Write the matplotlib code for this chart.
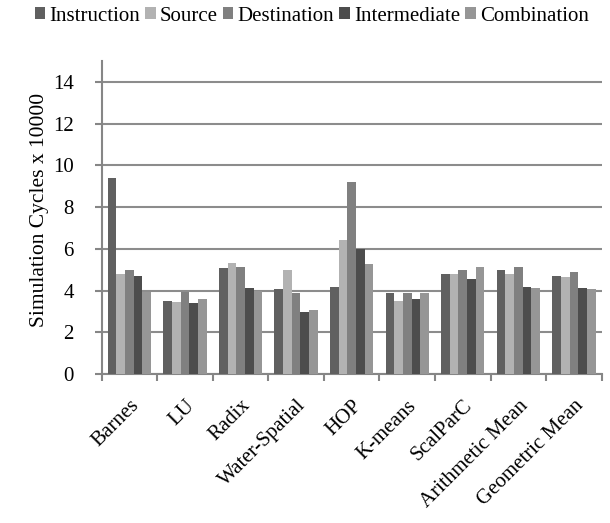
import numpy as np
import matplotlib
matplotlib.use('Agg')
import matplotlib.pyplot as plt
from matplotlib.transforms import ScaledTranslation

plt.rcParams['font.family'] = ['Liberation Serif', 'DejaVu Serif']

# Data (Simulation cycles x10000)
benchmarks = ['Barnes', 'LU', 'Radix', 'Water-Spatial', 'HOP', 'K-means',
              'ScalParC', 'Arithmetic Mean', 'Geometric Mean']
series_names = ['Instruction', 'Source', 'Destination', 'Intermediate', 'Combination']
instruction = [9.41, 3.52, 5.10, 4.05, 4.19, 3.86, 4.81, 5.00, 4.72]
source = [4.77, 3.47, 5.34, 4.96, 6.40, 3.52, 4.81, 4.77, 4.67]
destination = [4.99, 3.92, 5.15, 3.86, 9.18, 3.90, 4.96, 5.15, 4.91]
intermediate = [4.72, 3.42, 4.10, 2.99, 6.01, 3.57, 4.53, 4.19, 4.10]
combination = [3.92, 3.57, 3.98, 3.09, 5.29, 3.90, 5.15, 4.14, 4.05]

colors = ['#606060', '#b2b2b2', '#808080', '#4d4d4d', '#969696']
axis_gray = '#868686'
fs = 15

fig = plt.figure(figsize=(6.1, 5.23), dpi=100)
ax = fig.add_axes([0.1667, 0.2849, 0.8197, 0.5985])

x = np.arange(len(benchmarks))
bar_w = 0.78 / 5
all_series = [instruction, source, destination, intermediate, combination]
for i, (vals, name, c) in enumerate(zip(all_series, series_names, colors)):
    ax.bar(x - 0.39 + bar_w * (i + 0.5), vals, width=bar_w, color=c,
           label=name, zorder=3, linewidth=0)

ax.set_xlim(-0.5, len(benchmarks) - 0.5)
ax.set_ylim(0, 15)
ax.set_yticks(np.arange(0, 15, 2))
ax.yaxis.grid(True, color='#8c8c8c', linewidth=1.5, zorder=0)

# category boundary ticks like Excel
ax.set_xticks(np.arange(-0.5, len(benchmarks)), minor=False)
ax.set_xticklabels([])
ax.set_xticks(x, minor=True)
ax.set_xticklabels(benchmarks, minor=True, rotation=45, ha='right',
                   rotation_mode='anchor', fontsize=fs)
shift = ScaledTranslation(-0.045, 0, fig.dpi_scale_trans)
for lab in ax.get_xticklabels(minor=True):
    lab.set_transform(lab.get_transform() + shift)
ax.tick_params(axis='x', which='minor', length=0, pad=16)
ax.tick_params(axis='x', which='major', length=5, width=1.5, color=axis_gray)
ax.tick_params(axis='y', length=5, width=1.5, color=axis_gray, labelsize=fs, pad=15)

for side in ['top', 'right']:
    ax.spines[side].set_visible(False)
for side in ['left', 'bottom']:
    ax.spines[side].set_color(axis_gray)
    ax.spines[side].set_linewidth(1.5)

ax.set_ylabel('Simulation Cycles x 10000', fontsize=15.5)
ax.yaxis.set_label_coords(-0.105, 0.525)

fig.legend(loc='center', bbox_to_anchor=(0.511, 0.969), ncol=5, frameon=False,
           fontsize=fs, handlelength=0.5, handleheight=0.5, handletextpad=0.2,
           columnspacing=0.25, borderpad=0)

fig.savefig('out.png', dpi=100)
